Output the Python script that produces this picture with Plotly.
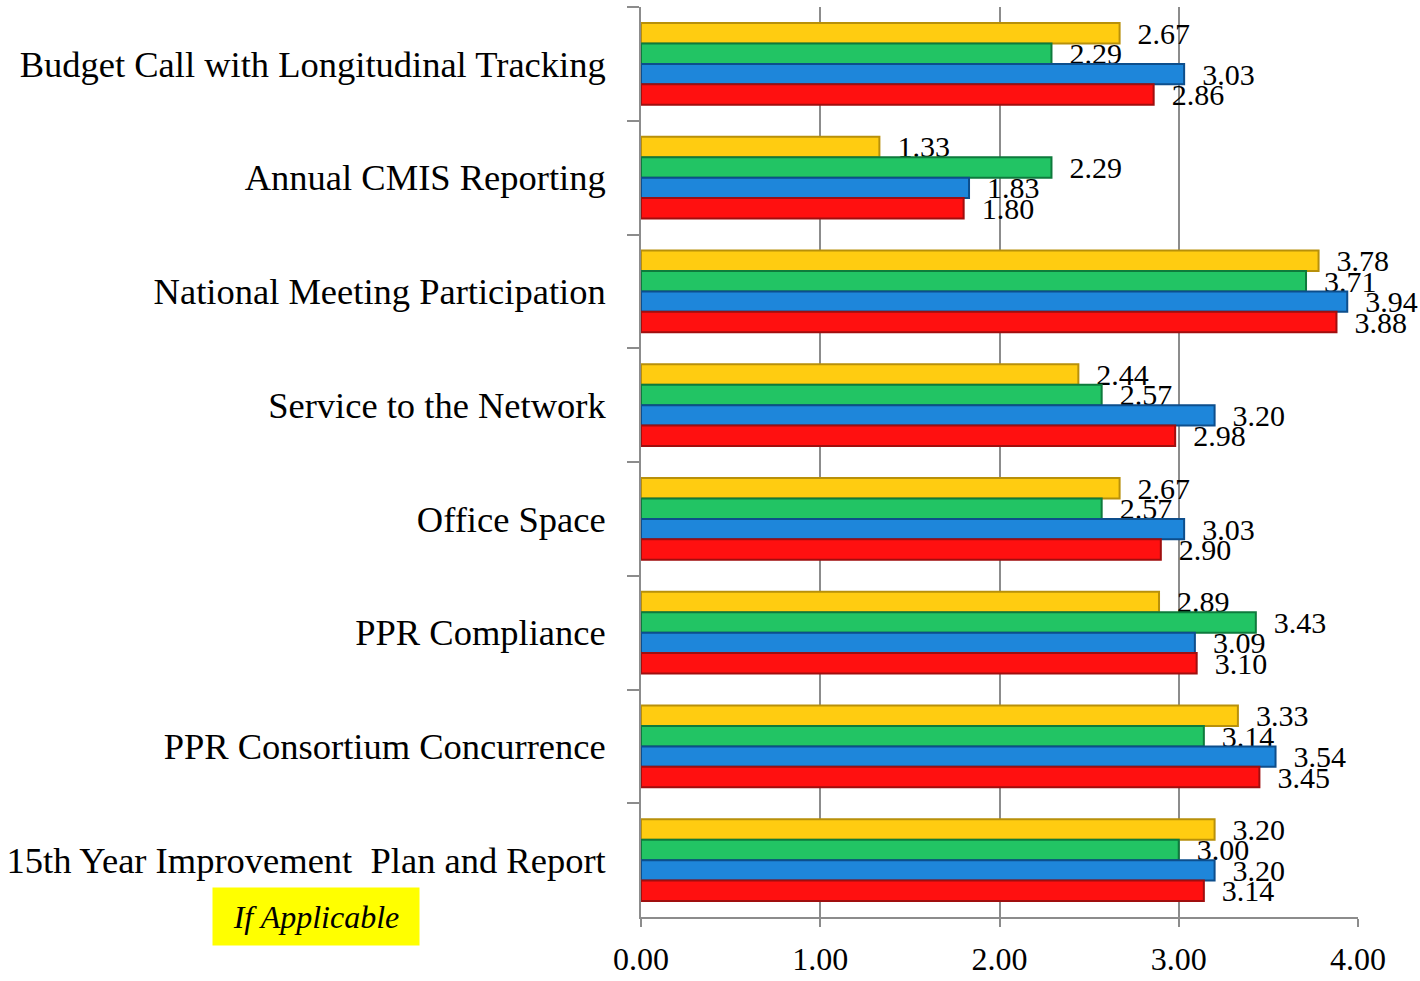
import plotly.graph_objects as go

categories = [
    "Budget Call with Longitudinal Tracking",
    "Annual CMIS Reporting",
    "National Meeting Participation",
    "Service to the Network",
    "Office Space",
    "PPR Compliance",
    "PPR Consortium Concurrence",
    "15th Year Improvement  Plan and Report",
]

# series listed in the order drawn within each group (top to bottom)
yellow_vals = [2.67, 1.33, 3.78, 2.44, 2.67, 2.89, 3.33, 3.20]
green_vals = [2.29, 2.29, 3.71, 2.57, 2.57, 3.43, 3.14, 3.00]
blue_vals = [3.03, 1.83, 3.94, 3.20, 3.03, 3.09, 3.54, 3.20]
red_vals = [2.86, 1.80, 3.88, 2.98, 2.90, 3.10, 3.45, 3.14]

x_ticks = [0, 1, 2, 3, 4]
x_tick_labels = ["0.00", "1.00", "2.00", "3.00", "4.00"]

series = [
    ("Yellow", yellow_vals, "#FFCC11", "#B8900A"),
    ("Green", green_vals, "#22C464", "#0E7A3C"),
    ("Blue", blue_vals, "#1E86DA", "#0D4E8C"),
    ("Red", red_vals, "#FF1010", "#A00E0E"),
]

FONT = "Liberation Serif, Times New Roman, serif"

W, H = 1420, 981
ML, MR, MT, MB = 641, 62, 7, 64

fig = go.Figure()
for name, vals, fill, edge in series:
    fig.add_trace(go.Bar(
        name=name,
        y=categories,
        x=vals,
        orientation="h",
        marker=dict(color=fill, line=dict(color=edge, width=2)),
        text=vals,
        texttemplate="\u00a0\u00a0%{x:.2f}",
        textposition="outside",
        constraintext="none",
        textfont=dict(family=FONT, size=30, color="black"),
        cliponaxis=False,
        hoverinfo="skip",
    ))

fig.update_layout(
    width=W,
    height=H,
    barmode="group",
    bargap=0.28,
    bargroupgap=0,
    showlegend=False,
    plot_bgcolor="white",
    paper_bgcolor="white",
    margin=dict(l=ML, r=MR, t=MT, b=MB, autoexpand=False),
    font=dict(family=FONT, size=32, color="black"),
)

fig.update_xaxes(
    range=[0, 4],
    tickvals=x_ticks,
    ticktext=x_tick_labels,
    showgrid=True,
    gridcolor="#8C8C8C",
    gridwidth=2,
    showline=True,
    linecolor="#8C8C8C",
    linewidth=2,
    ticks="outside",
    ticklen=8,
    tickcolor="#8C8C8C",
    tickwidth=2,
    zeroline=False,
    automargin=False,
    ticklabelstandoff=5,
    tickfont=dict(family=FONT, size=32),
)

fig.update_yaxes(
    autorange="reversed",
    showline=True,
    linecolor="#8C8C8C",
    linewidth=2,
    ticks="outside",
    ticklen=12,
    tickcolor="#8C8C8C",
    tickwidth=2,
    tickson="boundaries",
    showgrid=False,
    automargin=False,
    ticklabelstandoff=26,
    tickfont=dict(family=FONT, size=36.5),
)

plot_w = W - ML - MR
plot_h = H - MT - MB
fig.add_annotation(
    x=(316 - ML) / plot_w,
    y=(H - MB - 916) / plot_h,
    xref="paper", yref="paper",
    xanchor="center", yanchor="middle",
    text="<i>If Applicable</i>",
    showarrow=False,
    bgcolor="#FFFF00",
    font=dict(family=FONT, size=32, color="black"),
    width=186,
    height=37,
    borderpad=10,
)

fig.write_html(
    "out.html",
    config={"displayModeBar": False},
    post_script="document.body.style.margin='0';",
)
